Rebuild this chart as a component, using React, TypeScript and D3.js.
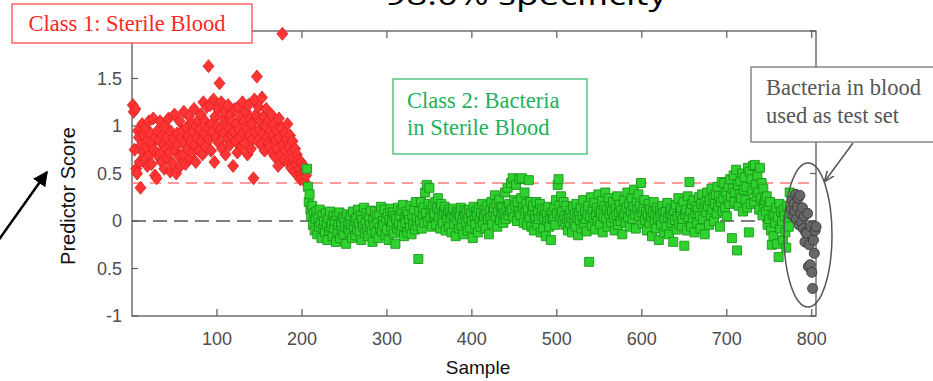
import React from 'react';
import * as d3 from 'd3';

const W = 933;
const H = 381;

// axis frame (pixels)
const plotLeft = 132;
const plotRight = 816;
const plotTop = 31;
const plotBottom = 316;

const xDomain = [0, 805];
const yDomain = [-1, 2];
const xTicks = [100, 200, 300, 400, 500, 600, 700, 800];
const yTicks = [-1, -0.5, 0, 0.5, 1, 1.5, 2];
// the "2" label sits under the class 1 box in the original, so it is left empty
const yTickLabels = ['-1', '0.5', '0', '0.5', '1', '1.5', ''];
const threshold = 0.4;

// Class 1: sterile blood, samples 1..205
const sterileStart = 1;
const sterileScores = [
  1.22, 1.15, 0.75, 1.18, 0.55, 0.5, 0.95, 0.88, 0.62, 0.35,
  0.8, 1.02, 0.72, 0.9, 0.65, 0.98, 0.78, 0.58, 0.85, 1.05,
  0.7, 0.92, 0.6, 0.82, 1.08, 0.75, 0.48, 0.88, 0.45, 0.95,
  0.68, 0.85, 1.05, 0.72, 0.62, 0.9, 0.8, 0.55, 1.0, 0.76,
  0.88, 0.66, 1.08, 0.72, 0.52, 0.94, 0.82, 0.6, 0.86, 1.12,
  0.74, 0.5, 0.92, 0.8, 0.68, 1.05, 0.58, 0.88, 0.95, 0.7,
  1.15, 0.82, 0.6, 0.98, 0.76, 0.9, 1.1, 0.66, 0.84, 1.02,
  0.72, 0.94, 1.18, 0.8, 0.62, 1.0, 0.88, 1.06, 0.74, 0.96,
  1.12, 0.84, 0.7, 1.25, 0.92, 1.05, 0.78, 1.2, 0.98, 1.63,
  0.86, 1.22, 0.74, 1.02, 0.94, 1.28, 0.62, 1.1, 0.88, 1.0,
  1.18, 0.82, 1.45, 0.96, 1.25, 0.76, 1.08, 0.92, 1.15, 0.7,
  1.02, 0.86, 1.22, 0.98, 0.8, 1.12, 0.9, 1.05, 0.58, 0.94,
  1.18, 0.84, 1.02, 0.72, 1.2, 0.96, 0.88, 1.1, 0.78, 1.25,
  0.92, 1.05, 0.82, 1.15, 0.98, 0.7, 1.22, 0.9, 1.08, 0.76,
  1.02, 0.86, 0.45, 1.28, 0.94, 1.12, 1.52, 0.84, 1.2, 0.96,
  1.05, 0.8, 1.3, 0.92, 1.1, 0.74, 1.0, 1.18, 0.88, 0.82,
  1.06, 0.78, 0.95, 1.12, 0.72, 0.9, 1.02, 0.68, 0.85, 0.96,
  0.76, 0.58, 1.08, 0.88, 0.7, 0.98, 1.97, 0.8, 0.64, 0.92,
  0.74, 0.86, 1.02, 0.62, 0.78, 0.9, 0.56, 0.72, 0.84, 0.66,
  0.52, 0.76, 0.6, 0.7, 0.48, 0.64, 0.55, 0.44, 0.62, 0.5,
  0.46, 0.58, 0.42, 0.52, 0.48,
];

// Class 2: bacteria in sterile blood, samples 206..775
const bacteriaStart = 206;
const bacteriaScores = [
  0.55, 0.36, 0.2, 0.28, 0.12, 0.05, 0.16, -0.04, 0.08, -0.1,
  0.02, 0.1, -0.14, 0.04, -0.06, 0.12, -0.02, -0.18, 0.06, -0.08,
  0.0, -0.12, 0.08, -0.04, -0.2, 0.03, -0.1, 0.1, -0.06, -0.02,
  -0.16, 0.05, -0.08, 0.0, -0.22, 0.06, -0.12, -0.04, 0.09, -0.18,
  -0.02, -0.1, 0.04, -0.14, 0.02, -0.06, -0.24, 0.07, -0.08, -0.01,
  -0.12, 0.05, -0.04, -0.18, 0.1, -0.07, 0.0, -0.15, 0.03, -0.09,
  0.12, -0.03, -0.11, 0.06, -0.2, 0.01, -0.06, 0.14, -0.13, -0.02,
  0.08, -0.08, -0.16, 0.04, -0.04, 0.11, -0.1, -0.22, 0.02, -0.05,
  0.1, -0.12, 0.05, -0.02, -0.18, 0.07, -0.07, 0.15, -0.11, 0.0,
  -0.04, 0.12, -0.15, 0.03, -0.09, 0.08, -0.2, 0.01, 0.13, -0.06,
  -0.01, 0.09, -0.13, 0.05, -0.24, 0.02, -0.08, 0.14, -0.03, 0.06,
  -0.1, 0.11, -0.05, 0.17, -0.16, 0.04, -0.02, 0.1, -0.12, 0.07,
  0.01, -0.07, 0.16, -0.14, 0.06, -0.03, 0.12, -0.09, 0.2, 0.03,
  -0.05, -0.4, 0.1, 0.0, 0.2, -0.08, 0.06, 0.14, -0.02, 0.3,
  0.08, 0.38, 0.0, 0.18, 0.35, 0.04, 0.12, -0.06, 0.16, 0.06,
  0.08, 0.2, -0.04, 0.14, 0.24, 0.04, 0.12, -0.08, 0.18, 0.06,
  -0.02, 0.1, 0.15, -0.1, 0.06, 0.01, 0.12, -0.06, 0.09, 0.03,
  -0.12, 0.07, 0.13, -0.03, 0.04, -0.16, 0.1, 0.0, 0.08, -0.08,
  0.05, 0.14, -0.05, 0.02, -0.14, 0.11, 0.06, -0.02, 0.09, -0.1,
  0.03, 0.12, -0.07, 0.08, 0.0, -0.18, 0.15, 0.04, -0.04, 0.1,
  0.06, -0.12, 0.13, 0.01, -0.06, 0.09, 0.18, -0.02, 0.05, 0.12,
  -0.08, 0.07, 0.16, 0.02, -0.14, 0.11, 0.04, 0.2, -0.03, 0.09,
  0.14, 0.27, 0.05, 0.18, -0.06, 0.1, 0.22, 0.01, 0.15, 0.08,
  0.14, -0.02, 0.08, 0.3, 0.02, 0.12, 0.35, 0.06, 0.18, 0.1,
  0.4, 0.12, 0.45, 0.04, 0.22, 0.16, 0.38, 0.0, 0.2, 0.1,
  0.44, 0.06, 0.24, 0.45, 0.14, -0.02, 0.3, 0.1, 0.18, -0.04,
  0.12, 0.43, 0.04, 0.2, -0.06, 0.1, 0.16, -0.1, 0.06, 0.02,
  0.2, -0.04, 0.1, 0.02, 0.18, -0.12, 0.06, 0.13, -0.08, 0.04,
  0.11, -0.16, 0.07, 0.0, 0.15, -0.06, 0.03, -0.2, 0.09, 0.02,
  0.02, 0.14, -0.04, 0.22, 0.08, 0.38, 0.44, 0.16, 0.04, 0.26,
  0.1, 0.0, 0.2, 0.05, -0.04, 0.16, 0.02, -0.1, 0.06, -0.02,
  0.11, 0.03, -0.12, 0.15, 0.0, 0.07, -0.06, 0.18, 0.04, -0.15,
  0.09, 0.01, 0.14, -0.08, 0.05, 0.22, -0.03, 0.1, 0.02, -0.11,
  0.07, 0.16, -0.43, 0.04, 0.25, -0.05, 0.12, 0.03, 0.19, -0.09,
  0.06, 0.14, 0.0, 0.28, 0.1, -0.04, 0.08, 0.21, -0.12, 0.04,
  0.16, 0.3, 0.02, 0.12, -0.06, 0.24, 0.07, 0.15, -0.02, 0.1,
  0.2, 0.03, -0.1, 0.13, 0.06, 0.26, -0.04, 0.09, 0.17, 0.0,
  0.11, -0.14, 0.05, 0.22, 0.08, -0.02, 0.14, 0.3, 0.04, 0.18,
  -0.06, 0.1, 0.24, 0.02, 0.15, 0.33, 0.07, -0.08, 0.2, 0.12,
  0.28, 0.05, 0.16, 0.4, 0.09, -0.03, 0.13, 0.22, 0.01, 0.1,
  -0.1, 0.06, 0.18, -0.02, 0.12, 0.04, -0.16, 0.09, 0.2, 0.0,
  0.07, -0.08, 0.14, 0.03, -0.2, 0.11, 0.05, -0.04, 0.16, 0.08,
  -0.12, 0.02, 0.1, -0.06, 0.19, 0.04, -0.14, 0.08, 0.13, -0.02,
  0.06, -0.22, 0.11, 0.01, 0.17, -0.09, 0.05, 0.24, -0.03, 0.09,
  0.14, -0.05, 0.02, 0.2, -0.26, 0.07, 0.12, -0.1, 0.26, 0.04,
  0.41, 0.1, -0.06, 0.18, 0.03, 0.22, -0.12, 0.08, 0.15, -0.02,
  0.12, 0.25, 0.05, -0.08, 0.18, 0.28, 0.02, 0.14, -0.14, 0.2,
  0.09, 0.3, 0.16, -0.04, 0.22, 0.06, 0.34, 0.12, 0.24, 0.0,
  0.18, 0.28, 0.08, 0.36, 0.15, 0.26, -0.06, 0.2, 0.41, 0.1,
  0.24, 0.4, 0.14, 0.3, 0.05, 0.22, 0.36, 0.18, 0.44, 0.26,
  -0.18, 0.34, 0.48, 0.2, 0.3, 0.54, -0.31, 0.38, 0.16, 0.28,
  0.42, 0.24, 0.5, 0.1, 0.33, 0.46, 0.22, 0.36, 0.14, 0.56,
  -0.12, 0.52, 0.18, 0.44, 0.32, 0.58, 0.2, 0.59, 0.38, 0.26,
  0.48, 0.3, 0.12, 0.56, 0.24, 0.4, 0.06, 0.34, 0.18, 0.22,
  0.1, 0.26, -0.04, 0.16, 0.02, 0.2, -0.1, -0.25, 0.06, -0.16,
  0.08, -0.02, 0.14, -0.24, 0.04, -0.38, 0.18, -0.08, 0.1, 0.0,
  -0.2, 0.12, 0.05, -0.12, -0.28, 0.16, 0.02, -0.06, 0.3, 0.08,
];

// bacteria in blood used as test set, samples 776..805
const testStart = 776;
const testScores = [
  0.12, 0.22, 0.05, 0.18, 0.1, 0.28, 0.02, 0.15, 0.24, -0.04,
  0.27, 0.08, -0.01, 0.14, -0.08, 0.05, -0.22, -0.12, -0.13, 0.08,
  -0.48, -0.25, -0.46, -0.06, -0.54, -0.71, -0.2, -0.34, -0.1, -0.06,
];

const toPoints = (start: number, scores: number[]) =>
  scores.map((v, i) => ({ sample: start + i, score: v }));

const diamondPath = 'M0,-6.5L5.5,0L0,6.5L-5.5,0Z';
const squarePath = d3.symbol(d3.symbolSquare, 81)() as string;
const circlePath = d3.symbol(d3.symbolCircle, 80)() as string;

const App = () => {
  const x = d3.scaleLinear().domain(xDomain).range([plotLeft, plotRight]);
  const y = d3.scaleLinear().domain(yDomain).range([plotBottom, plotTop]);

  const sterile = toPoints(sterileStart, sterileScores);
  const bacteria = toPoints(bacteriaStart, bacteriaScores);
  const test = toPoints(testStart, testScores);

  const axisColor = '#5a5a5a';
  const tickColor = '#4d4d4d';
  const serif = '"Liberation Serif", "DejaVu Serif", serif';
  const sans = '"Liberation Sans", Arial, sans-serif';

  return (
    <svg
      width={W}
      height={H}
      style={{ position: 'absolute', left: 0, top: 0, background: '#fff' }}
    >
      <defs>
        <marker id="blackHead" viewBox="0 0 10 10" refX="9" refY="5" markerWidth="6" markerHeight="6" orient="auto">
          <path d="M0,0L10,5L0,10Z" fill="#000" />
        </marker>
        <marker id="grayHead" viewBox="0 0 10 10" refX="9" refY="5" markerWidth="7" markerHeight="7" orient="auto">
          <path d="M0,1L10,5L0,9" fill="none" stroke="#555" strokeWidth="1.5" />
        </marker>
      </defs>

      {/* title, cut off at top */}
      <text x={526} y={5} textAnchor="middle" fontFamily={'"Open Sans", sans-serif'} fontSize={30} fill="#000"
        textLength={282} lengthAdjust="spacingAndGlyphs">
        98.0% specificity
      </text>

      {/* axes box */}
      <rect x={plotLeft} y={plotTop} width={plotRight - plotLeft} height={plotBottom - plotTop}
        fill="none" stroke={axisColor} strokeWidth={1.3} />
      {xTicks.map((t) => (
        <g key={'xt' + t}>
          <line x1={x(t)} x2={x(t)} y1={plotBottom} y2={plotBottom - 7} stroke={axisColor} strokeWidth={1.2} />
          <line x1={x(t)} x2={x(t)} y1={plotTop} y2={plotTop + 7} stroke={axisColor} strokeWidth={1.2} />
          <text x={x(t)} y={345} textAnchor="middle" fontFamily={sans} fontSize={18} fill={tickColor}>{t}</text>
        </g>
      ))}
      {yTicks.map((t, i) => (
        <g key={'yt' + t}>
          <line x1={plotLeft} x2={plotLeft + 6} y1={y(t)} y2={y(t)} stroke={axisColor} strokeWidth={1.2} />
          <line x1={plotRight} x2={plotRight - 6} y1={y(t)} y2={y(t)} stroke={axisColor} strokeWidth={1.2} />
          {yTickLabels[i] && (
            <text x={plotLeft - 10} y={y(t)} dy="0.35em" textAnchor="end" fontFamily={sans} fontSize={18} fill={tickColor}>
              {yTickLabels[i]}
            </text>
          )}
        </g>
      ))}
      <text x={478} y={374} textAnchor="middle" fontFamily={sans} fontSize={19} fill="#111">Sample</text>
      <text transform="translate(75,196) rotate(-90)" textAnchor="middle" fontFamily={sans} fontSize={20} fill="#111">
        Predictor Score
      </text>

      {/* reference lines */}
      <line x1={plotLeft} x2={plotRight} y1={y(0)} y2={y(0)} stroke="#555" strokeWidth={1.5} strokeDasharray="14,7" />
      <line x1={plotLeft} x2={plotRight} y1={y(threshold)} y2={y(threshold)} stroke="#ff7b7b" strokeWidth={1.6} strokeDasharray="11,7" />

      {/* markers */}
      {sterile.map((d) => (
        <path key={'s' + d.sample} d={diamondPath} transform={`translate(${x(d.sample)},${y(d.score)})`}
          fill="#ff3434" stroke="#dc1e1e" strokeWidth={0.8} />
      ))}
      {bacteria.map((d) => (
        <path key={'b' + d.sample} d={squarePath} transform={`translate(${x(d.sample)},${y(d.score)})`}
          fill="#2fd12f" stroke="#1b961b" strokeWidth={0.9} />
      ))}
      {test.map((d) => (
        <path key={'t' + d.sample} d={circlePath} transform={`translate(${x(d.sample)},${y(d.score)})`}
          fill="#676767" stroke="#383838" strokeWidth={0.9} />
      ))}

      {/* annotations */}
      <rect x={12} y={4} width={240} height={39} fill="#fff" stroke="#ff3a3a" strokeWidth={1.2} />
      <text x={127} y={31} textAnchor="middle" fontFamily={serif} fontSize={22.5} fill="#ff2626">Class 1: Sterile Blood</text>

      <rect x={393} y={79} width={194} height={75} fill="#fff" stroke="#49c07c" strokeWidth={1.4} />
      <text x={407} y={108} fontFamily={serif} fontSize={22.5} fill="#22b05c">Class 2: Bacteria</text>
      <text x={407} y={135} fontFamily={serif} fontSize={22.5} fill="#22b05c">in Sterile Blood</text>

      <rect x={751} y={67} width={190} height={75} fill="#fff" stroke="#6a6a6a" strokeWidth={1.2} />
      <text x={766} y={95} fontFamily={serif} fontSize={22.5} fill="#555">Bacteria in blood</text>
      <text x={766} y={123} fontFamily={serif} fontSize={22.5} fill="#555">used as test set</text>

      <line x1={853} y1={143} x2={825} y2={181} stroke="#555" strokeWidth={1.5} markerEnd="url(#grayHead)" />
      <ellipse cx={808} cy={235} rx={24} ry={72} fill="none" stroke="#555" strokeWidth={1.5} />

      <line x1={-2} y1={241} x2={47} y2={172} stroke="#000" strokeWidth={2.5} markerEnd="url(#blackHead)" />
    </svg>
  );
};

export default App;
